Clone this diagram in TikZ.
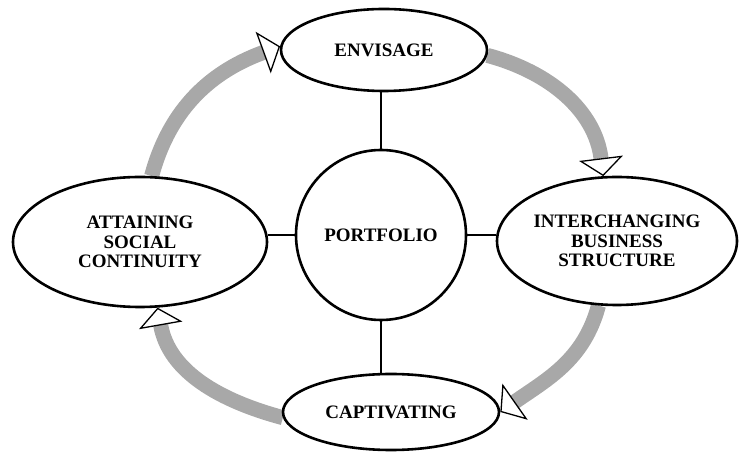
\documentclass[tikz,border=0pt]{standalone}
\usepackage{fontspec}
\setmainfont{Liberation Serif}
\usetikzlibrary{arrows.meta,shapes.geometric}
\definecolor{ringgray}{RGB}{168,168,168}
\pgfdeclarelayer{bg}
\pgfsetlayers{bg,main}
\begin{document}
\begin{tikzpicture}[x=1pt,y=1pt,
  lbl/.style={font=\fontsize{19}{19.5}\selectfont\bfseries, align=center},
  oval/.style={lbl, ellipse, draw=black, line width=2.6pt, fill=white, inner sep=0pt},
  hub/.style={lbl, circle, draw=black, line width=2.6pt, fill=white, inner sep=0pt, minimum size=170pt},
  ring/.style={draw=ringgray, line width=15pt,
    -{Triangle[length=18pt,width=44pt,fill=white,color=black,line width=1.3pt]}},
  spoke/.style={draw=black, line width=1.2pt}]
\useasboundingbox (0,0) rectangle (739,452);
\node[hub] (port) at (381,217) {PORTFOLIO};
\node[oval, minimum width=206pt, minimum height=82pt] (env) at (384,402) {ENVISAGE};
\node[oval, minimum width=240pt, minimum height=128pt] (inter) at (617,211) {INTERCHANGING\\BUSINESS\\STRUCTURE};
\node[oval, minimum width=254pt, minimum height=130pt] (att) at (140,210) {ATTAINING\\SOCIAL\\CONTINUITY};
\node[oval, minimum width=216pt, minimum height=76pt] (capt) at (391,40) {CAPTIVATING};
\draw[spoke] (port.north) -- (port.north |- env.south);
\draw[spoke] (port.south) -- (port.south |- capt.north);
\draw[spoke] (port.west) -- (port.west -| att.east);
\draw[spoke] (port.east) -- (port.east -| inter.west);
\begin{pgfonlayer}{bg}
\draw[ring] (att.80) to[out=75, in=200] (env.178);
\draw[ring] (env.-3) to[out=-15, in=97] (inter.102);
\draw[ring] (inter.254) to[out=-105, in=35] (capt.0);
\draw[ring] (capt.183) to[out=165, in=-80] (att.285);
\end{pgfonlayer}
\end{tikzpicture}
\end{document}
